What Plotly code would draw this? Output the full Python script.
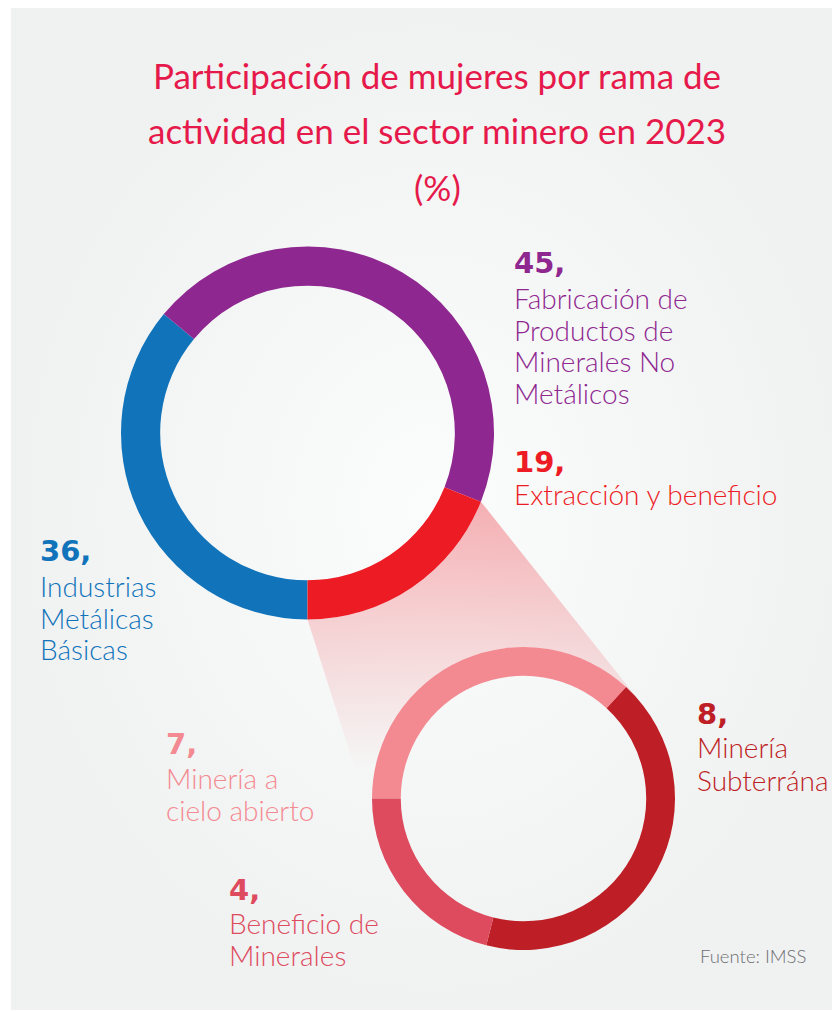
import numpy as np
import plotly.graph_objects as go

# ---------------- data ----------------
# main breakdown, listed clockwise starting at 6 o'clock
ramas = ["Industrias<br>Metálicas<br>Básicas",
         "Fabricación de<br>Productos de<br>Minerales No<br>Metálicos",
         "Extracción y beneficio"]
participacion = [36, 45, 19]
colores_ramas = ["#1174BB", "#8E278F", "#ED1C24"]

# breakdown of "Extracción y beneficio", clockwise starting at 9 o'clock
subramas = ["Minería a<br>cielo abierto", "Minería<br>Subterrána", "Beneficio de<br>Minerales"]
participacion_sub = [7, 8, 4]
colores_sub = ["#F48A91", "#BE1E25", "#DE4B5E"]

titulo = ["Participación de mujeres por rama de",
          "actividad en el sector minero en 2023",
          "(%)"]
fuente = "Fuente: IMSS"

# ---------------- layout constants (reference pixels) ----------------
W, H, OFF = 840, 1011, 8          # page body margin offsets the figure by 8px
FW, FH = W - OFF, H - OFF
C1, R1 = (307.5, 433.0), 186.5     # main donut
C2, R2 = (523.5, 798.5), 151.5     # breakdown donut
TITLE_COLOR = "#E6194B"
FONT = "Lato, Open Sans, sans-serif"
NUM_FONT = "DejaVu Sans, Verdana, sans-serif"


def dom(c, r):
    return dict(x=[(c[0] - r - OFF) / FW, (c[0] + r - OFF) / FW],
                y=[1 - (c[1] + r - OFF) / FH, 1 - (c[1] - r - OFF) / FH])


def on_circle(c, r, theta):
    # theta in degrees, screen polar (y down)
    t = np.radians(theta)
    return c[0] + r * np.cos(t), c[1] + r * np.sin(t)


def tangent_angle(p, c, r, side):
    dx, dy = p[0] - c[0], p[1] - c[1]
    d = np.hypot(dx, dy)
    phi = np.degrees(np.arctan2(dy, dx))
    beta = np.degrees(np.arccos(r / d))
    return phi + side * beta


fig = go.Figure()

# background panel with soft radial gradient
fig.add_trace(go.Scatter(
    x=[11, 850, 850, 11, 11], y=[7, 7, 1010, 1010, 7], mode="lines",
    line=dict(width=0), fill="toself",
    fillgradient=dict(type="radial",
                      colorscale=[[0, "#FBFCFC"], [1, "#F0F1F1"]]),
    hoverinfo="skip", showlegend=False))

# connector wedge from the "Extracción" slice (last, ends at 6 o'clock)
frac = participacion[-1] / sum(participacion)
a_start = 90.0                      # bottom of donut (screen polar)
a_end = 90.0 - 360 * frac
arc1 = np.linspace(a_start, a_end, 40)
px1, py1 = on_circle(C1, R1, arc1)
A = (px1[-1], py1[-1])
B = (px1[0], py1[0])
tA = tangent_angle(A, C2, R2, +1)
tB = tangent_angle(B, C2, R2, -1)
if tB > tA:
    tB -= 360
arc2 = np.linspace(tA, tB, 80)
px2, py2 = on_circle(C2, R2, arc2)
wx = np.concatenate([px1, px2, [px1[0]]])
wy = np.concatenate([py1, py2, [py1[0]]])
fig.add_trace(go.Scatter(
    x=wx, y=wy, mode="lines", line=dict(width=0), fill="toself",
    fillgradient=dict(type="vertical", start=500, stop=770,
                      colorscale=[[0, "rgba(236,50,60,0.38)"],
                                  [0.45, "rgba(236,50,60,0.2)"],
                                  [1, "rgba(236,50,60,0)"]]),
    hoverinfo="skip", showlegend=False))

# donuts
fig.add_trace(go.Pie(
    labels=ramas, values=participacion, hole=0.79, sort=False,
    direction="clockwise", rotation=180,
    marker=dict(colors=colores_ramas, line=dict(width=0)),
    textinfo="none", hoverinfo="skip", showlegend=False, domain=dom(C1, R1)))

fig.add_trace(go.Pie(
    labels=subramas, values=participacion_sub, hole=0.81, sort=False,
    direction="clockwise", rotation=270,
    marker=dict(colors=colores_sub, line=dict(width=0)),
    textinfo="none", hoverinfo="skip", showlegend=False, domain=dom(C2, R2)))

# label placement: (x, y of number, y of first text line, line step)
pos_ramas = [(40, 551, 586, 31.5), (514, 263, 298, 31.5), (514, 462, 494, 31.5)]
pos_sub = [(166, 744, 778, 32), (697, 714, 747, 32.5), (229, 890, 923, 32)]

ann = []
for txt, val, col, (x, yn, y0, step) in zip(ramas + subramas,
                                            participacion + participacion_sub,
                                            colores_ramas + colores_sub,
                                            pos_ramas + pos_sub):
    ann.append(dict(x=x - 2, y=yn, text=f"<b>{val},</b>", xanchor="left", yanchor="middle",
                    font=dict(family=NUM_FONT, size=29, color=col)))
    for i, line in enumerate(txt.split("<br>")):
        ann.append(dict(x=x - 2, y=y0 + i * step, text=line, xanchor="left", yanchor="middle",
                        font=dict(family=FONT, size=28, color=col, weight=300)))

for line, y in zip(titulo, [75, 130, 187]):
    ann.append(dict(x=437, y=y, text=line, xanchor="center", yanchor="middle",
                    font=dict(family=FONT, size=35, color=TITLE_COLOR)))

ann.append(dict(x=698, y=956, text=fuente, xanchor="left", yanchor="middle",
                font=dict(family=FONT, size=18.5, color="#6D6E71", weight=300)))

for a in ann:
    a.update(xref="x", yref="y", showarrow=False)

fig.update_layout(
    width=FW, height=FH, margin=dict(l=0, r=0, t=0, b=0),
    paper_bgcolor="white", plot_bgcolor="rgba(0,0,0,0)",
    xaxis=dict(range=[OFF, W], visible=False, fixedrange=True),
    yaxis=dict(range=[H, OFF], visible=False, fixedrange=True),
    annotations=ann, showlegend=False,
)

fig.write_html("out.html")
